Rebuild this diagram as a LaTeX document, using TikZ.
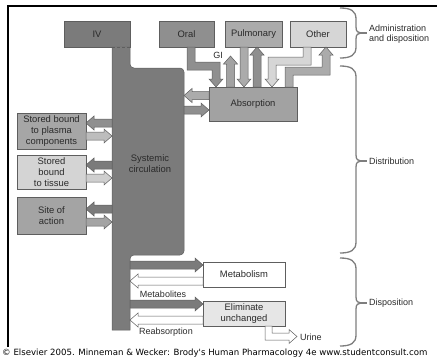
\documentclass[tikz,border=0pt]{standalone}
\usepackage{fontspec}
\setmainfont{Liberation Sans}
\newfontfamily\copyfont{DejaVu Sans}
\definecolor{ivgray}{HTML}{7B7B7B}
\definecolor{oralgray}{HTML}{8F8F8F}
\definecolor{pulmgray}{HTML}{ABABAB}
\definecolor{othergray}{HTML}{D6D6D6}
\definecolor{absgray}{HTML}{A2A2A2}
\definecolor{plasmagray}{HTML}{A6A6A6}
\definecolor{tissuegray}{HTML}{D4D4D4}
\definecolor{sitegray}{HTML}{A4A4A4}
\definecolor{elimgray}{HTML}{E6E6E6}
\definecolor{lightA}{HTML}{BDBDBD}
\definecolor{lightB}{HTML}{CFCFCF}
\definecolor{edgegray}{HTML}{5E5E5E}
\definecolor{txtgray}{HTML}{2A2A2A}
\definecolor{bracegray}{HTML}{7E7E7E}
\tikzset{
  box/.style={draw=edgegray, line width=0.5pt, inner sep=0pt, align=center,
    font=\fontsize{9.4}{10.8}\selectfont, text=txtgray},
  arrowline/.style={draw=edgegray, line width=0.5pt, line join=miter},
  lbl/.style={inner sep=0pt, font=\fontsize{9}{10.5}\selectfont, text=txtgray},
  bracestyle/.style={draw=bracegray, line width=1.3pt},
}
% horizontal block arrow: tail x, tip x, centre y, fill
\newcommand{\hblock}[4]{%
  \pgfmathsetmacro\hbdir{ifthenelse(#2>#1,1,-1)}%
  \pgfmathsetmacro\hbbase{#2-\hbdir*8}%
  \filldraw[arrowline, fill=#4] (#1,#3-4) -- (\hbbase,#3-4) -- (\hbbase,#3-7) -- (#2,#3)
    -- (\hbbase,#3+7) -- (\hbbase,#3+4) -- (#1,#3+4) -- cycle;}
% vertical block arrow: centre x, tail y, tip y, fill
\newcommand{\vblock}[4]{%
  \pgfmathsetmacro\vbdir{ifthenelse(#3>#2,1,-1)}%
  \pgfmathsetmacro\vbbase{#3-\vbdir*8}%
  \filldraw[arrowline, fill=#4] (#1-4,#2) -- (#1-4,\vbbase) -- (#1-7,\vbbase) -- (#1,#3)
    -- (#1+7,\vbbase) -- (#1+4,\vbbase) -- (#1+4,#2) -- cycle;}
% right curly brace: top y, bottom y, tip y
\newcommand{\sidebrace}[3]{%
  \draw[bracestyle] (340,#1) .. controls (351,#1) and (356,#1+3) .. (356,#1+11)
    -- (356,#3-6) .. controls (356,#3-1.5) and (358,#3) .. (361,#3)
    .. controls (358,#3) and (356,#3+1.5) .. (356,#3+6)
    -- (356,#2-11) .. controls (356,#2-3) and (351,#2) .. (340,#2);
  \draw[bracestyle] (360,#3) -- (367,#3);}
\begin{document}
\begin{tikzpicture}[x=1pt,y=-1pt]
\useasboundingbox (0,0) rectangle (437,360);
\begin{scope}
\clip (0,0) rectangle (437,360);
% frame
\draw[line width=2pt] (8,347) -- (8,6) -- (438,6);
% top boxes
\node[box, fill=ivgray, minimum width=66pt, minimum height=26pt] (iv) at (97,34) {IV};
\node[box, fill=oralgray, minimum width=55pt, minimum height=26pt] (oral) at (186.5,34) {Oral};
\node[box, fill=pulmgray, minimum width=57pt, minimum height=26pt] (pulm) at (253.5,34) {Pulmonary};
\node[box, fill=othergray, minimum width=56pt, minimum height=26pt] (other) at (318,34) {Other};
% systemic circulation
\filldraw[draw=edgegray, line width=0.5pt, fill=ivgray] (112,47) -- (130,47) [rounded corners=4pt] -- (130,68) -- (184,68) -- (184,255) -- (130,255) [sharp corners] -- (130,330) -- (112,330) -- cycle;
\draw[draw=ivgray, line width=1pt] (112.5,47) -- (129.5,47);
\draw[draw=edgegray, line width=0.6pt, dash pattern=on 3pt off 2pt] (112,47) -- (130,47);
\node[lbl, align=center, font=\fontsize{9.4}{10.8}\selectfont] (sys) at (150,164) {Systemic\\circulation};
% absorption
\node[box, fill=absgray, minimum width=88pt, minimum height=34pt] (abs) at (253,104) {Absorption};
% oral -> absorption (GI)
\filldraw[arrowline, fill=oralgray] (187,47) -- (195,47) -- (195,62) -- (220,62) -- (220,79) -- (223,79) -- (216,87) -- (209,79) -- (212,79) -- (212,70) -- (187,70) -- cycle;
\vblock{230.5}{87}{56}{absgray}
\node[lbl] (gi) at (218,55) {GI};
% pulmonary
\vblock{244}{47}{87}{pulmgray}
\vblock{257}{87}{47}{oralgray}
% other
\filldraw[arrowline, fill=othergray] (303,47) -- (311,47) -- (311,65) -- (276,65) -- (276,79) -- (279,79) -- (272,87) -- (265,79) -- (268,79) -- (268,57) -- (303,57) -- cycle;
\filldraw[arrowline, fill=pulmgray] (285,87) -- (285,67) -- (322,67) -- (322,55) -- (319,55) -- (326,47) -- (333,55) -- (330,55) -- (330,75) -- (293,75) -- (293,87) -- cycle;
% absorption <-> systemic
\hblock{209}{184}{95.5}{pulmgray}
\hblock{184}{209}{110}{oralgray}
% left boxes
\node[box, fill=plasmagray, minimum width=69pt, minimum height=36pt] (plasma) at (51.5,131) {Stored bound\\to plasma\\components};
\node[box, fill=tissuegray, minimum width=69pt, minimum height=34pt] (tissue) at (51.5,172) {Stored\\bound\\to tissue};
\node[box, fill=sitegray, minimum width=69pt, minimum height=37pt] (site) at (51.5,215.5) {Site of\\action};
\hblock{112}{86}{123}{oralgray}
\hblock{86}{112}{136}{lightA}
\hblock{112}{86}{165}{ivgray}
\hblock{86}{112}{178}{lightB}
\hblock{112}{86}{209}{ivgray}
\hblock{86}{112}{222}{sitegray}
% metabolism / elimination
\node[box, fill=white, minimum width=82pt, minimum height=25pt] (metab) at (244,274.5) {Metabolism};
\node[box, fill=elimgray, minimum width=82pt, minimum height=25pt] (elim) at (244,313.5) {Eliminate\\unchanged};
\hblock{130}{203}{265}{ivgray}
\hblock{203}{130}{281}{white}
\hblock{130}{203}{304}{ivgray}
\hblock{203}{130}{320}{white}
\node[lbl] (metabolites) at (163,294.5) {Metabolites};
\node[lbl] (reabs) at (166,332.5) {Reabsorption};
\filldraw[arrowline, fill=white] (265,326) -- (265,340) -- (289,340) -- (289,343.5) -- (297,336.5) -- (289,329.5) -- (289,333) -- (272,333) -- (272,326) -- cycle;
\node[lbl, anchor=west] (urine) at (300,337) {Urine};
% braces
\sidebrace{8}{58}{33}
\sidebrace{66}{253}{161}
\sidebrace{258}{346}{303}
\node[lbl, anchor=west, align=left] (admin) at (369,34) {Administration\\and disposition};
\node[lbl, anchor=west] (distr) at (369,161) {Distribution};
\node[lbl, anchor=west] (dispo) at (369,303) {Disposition};
% copyright
\node[anchor=base west, inner sep=0pt, font=\copyfont\fontsize{8.6}{10}\selectfont] (copy) at (2,355) {© Elsevier 2005. Minneman \& Wecker: Brody's Human Pharmacology 4e www.studentconsult.com};
\end{scope}
\end{tikzpicture}
\end{document}
